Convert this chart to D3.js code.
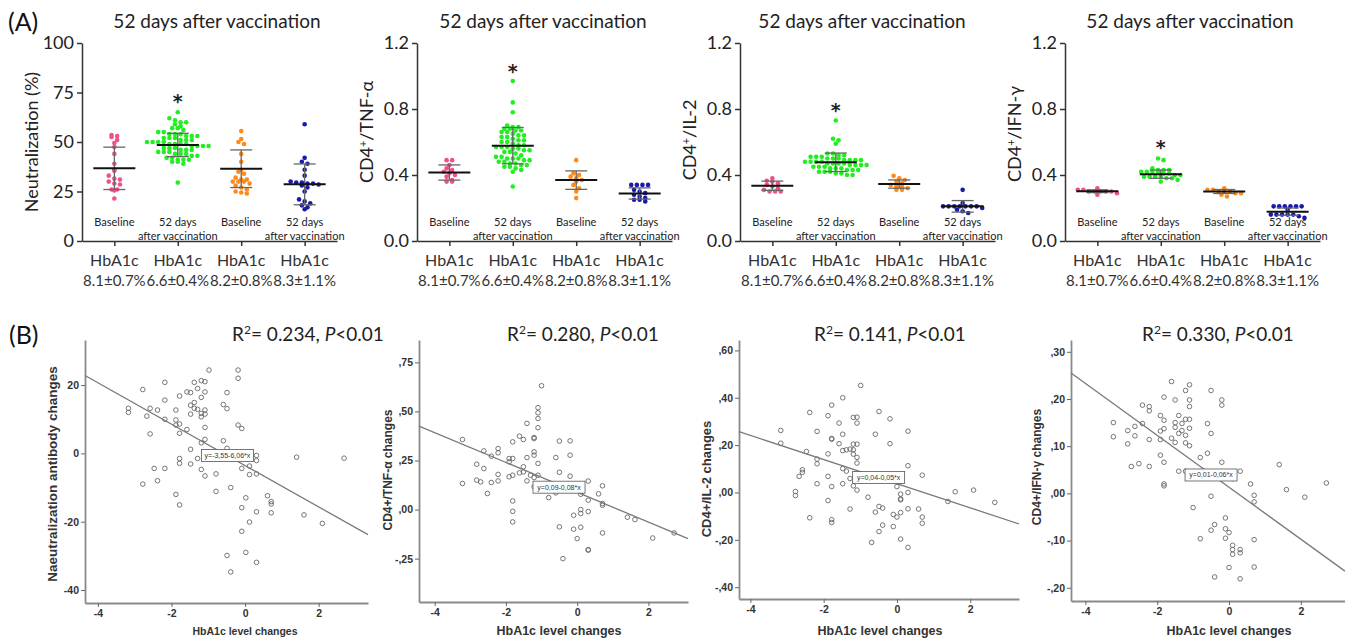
<!DOCTYPE html>
<html>
<head>
<meta charset="utf-8">
<script src="https://cdn.jsdelivr.net/npm/d3@7"></script>
<style>
  body { margin: 0; background: #fff; }
</style>
</head>
<body>
<div id="chart"></div>
<script>
// ---------- data: panel (A) ----------
var groupNames = [["Baseline"], ["52 days", "after vaccination"], ["Baseline"], ["52 days", "after vaccination"]];
var hbaLabels = ["8.1±0.7%", "6.6±0.4%", "8.2±0.8%", "8.3±1.1%"];
var panelTitle = "52 days after vaccination";

var neutValues = [
  [53.5, 53, 52.5, 51, 49.5, 47.5, 44, 39, 36, 35.5, 33, 31.5, 31, 30, 29, 28.5, 26, 26, 25.5, 21.5],
  [65, 62, 61, 60, 60, 59, 58, 57, 57, 56, 55, 55, 54, 54, 54, 53, 53, 53, 52, 52, 52, 51, 51, 51, 50, 50, 50, 50,
   49, 49, 49, 49, 48, 48, 48, 48, 47, 47, 47, 46, 46, 46, 45, 45, 45, 44, 44, 44, 43, 43, 42, 42, 41, 41, 41, 40, 40, 39, 29.5],
  [55.5, 51.5, 50, 49, 44, 40, 36, 35, 34, 32, 31, 31, 30, 30, 30, 29, 28, 27, 26, 25, 24.5, 24],
  [59, 42, 40, 39, 36, 33, 30, 29.5, 29.5, 29, 29, 28.5, 28, 27, 25, 21, 20, 19, 18, 17, 16]
];
var neutMean = [36.7, 48.5, 36.5, 28.6];
var neutSD = [10.7, 5.9, 9.5, 10.3];

var tnfValues = [
  [0.49, 0.49, 0.46, 0.44, 0.43, 0.42, 0.41, 0.40, 0.39, 0.37, 0.36, 0.36],
  [0.97, 0.84, 0.78, 0.70, 0.69, 0.69, 0.68, 0.68, 0.67, 0.67, 0.66, 0.66, 0.65, 0.64, 0.64, 0.63, 0.63, 0.62, 0.61, 0.61,
   0.60, 0.60, 0.59, 0.58, 0.58, 0.57, 0.57, 0.57, 0.56, 0.56, 0.55, 0.55, 0.54, 0.54, 0.53, 0.52, 0.51, 0.51, 0.50, 0.50,
   0.50, 0.49, 0.49, 0.48, 0.48, 0.47, 0.47, 0.46, 0.46, 0.45, 0.45, 0.44, 0.43, 0.42, 0.33],
  [0.49, 0.41, 0.40, 0.39, 0.38, 0.37, 0.36, 0.34, 0.32, 0.30, 0.26],
  [0.34, 0.34, 0.34, 0.34, 0.31, 0.30, 0.29, 0.28, 0.27, 0.26, 0.25, 0.25, 0.24]
];
var tnfMean = [0.415, 0.578, 0.369, 0.288];
var tnfSD = [0.046, 0.11, 0.056, 0.034];

var il2Values = [
  [0.38, 0.365, 0.36, 0.35, 0.34, 0.33, 0.32, 0.31, 0.30, 0.30, 0.30],
  [0.73, 0.62, 0.61, 0.59, 0.53, 0.53, 0.52, 0.52, 0.51, 0.51, 0.51, 0.50, 0.50, 0.50, 0.49, 0.49, 0.49, 0.49, 0.48, 0.48,
   0.48, 0.48, 0.47, 0.47, 0.47, 0.47, 0.46, 0.46, 0.46, 0.46, 0.45, 0.45, 0.45, 0.44, 0.44, 0.44, 0.43, 0.43, 0.43, 0.42,
   0.42, 0.42, 0.41, 0.41, 0.40, 0.40],
  [0.395, 0.38, 0.37, 0.36, 0.35, 0.34, 0.33, 0.33, 0.32, 0.31, 0.31],
  [0.31, 0.23, 0.21, 0.21, 0.21, 0.21, 0.21, 0.21, 0.21, 0.20, 0.19, 0.18, 0.17]
];
var il2Mean = [0.335, 0.477, 0.345, 0.21];
var il2SD = [0.028, 0.056, 0.025, 0.035];

var ifnValues = [
  [0.32, 0.31, 0.31, 0.30, 0.30, 0.30, 0.30, 0.30, 0.29, 0.28],
  [0.50, 0.49, 0.44, 0.43, 0.43, 0.43, 0.42, 0.42, 0.42, 0.42, 0.41, 0.41, 0.40, 0.40, 0.39, 0.39, 0.39, 0.39, 0.38, 0.38, 0.37, 0.36],
  [0.32, 0.31, 0.31, 0.30, 0.30, 0.30, 0.29, 0.29, 0.28, 0.27],
  [0.21, 0.21, 0.21, 0.21, 0.21, 0.21, 0.19, 0.16, 0.16, 0.16, 0.16, 0.16, 0.15, 0.14]
];
var ifnMean = [0.302, 0.405, 0.30, 0.178];
var ifnSD = [0.008, 0.025, 0.012, 0.022];

var starValues = [71.5, 1.04, 0.805, 0.58];

// ---------- data: panel (B) ----------
var neutScatter = [[-3.17,13.2],[-3.17,12],[-2.78,18.7],[-2.78,-9],[-2.67,10.9],[-2.58,13.2],[-2.58,5.7],[-2.47,-4.4],[-2.38,12.7],[-2.38,-8],
  [-2.18,20.8],[-2.18,15.6],[-2.18,10],[-2.18,-4.4],[-1.88,12.7],[-1.88,9.8],[-1.88,8.3],[-1.88,-12],[-1.78,16.8],[-1.78,5.9],
  [-1.78,8.6],[-1.78,-1.5],[-1.78,-2.9],[-1.78,-15.1],[-1.58,18],[-1.58,7],[-1.48,17.8],[-1.48,14.1],[-1.48,11.5],[-1.48,1.2],
  [-1.48,-3.1],[-1.38,20.8],[-1.38,14.9],[-1.38,13.2],[-1.29,19],[-1.29,12.9],[-1.29,-1.5],[-1.19,21.3],[-1.19,16.4],[-1.19,11.7],
  [-1.19,10.7],[-1.19,3.1],[-1.19,-4.7],[-1.09,21],[-1.09,18],[-1.09,12.7],[-1.09,11.5],[-1.09,7.6],[-1.09,4.1],[-1.09,-6.6],
  [-0.98,24.4],[-0.79,-6],[-0.79,-11.1],[-0.59,14.3],[-0.59,3.7],[-0.49,17.8],[-0.49,13.1],[-0.49,1.5],[-0.49,-29.9],[-0.39,-10],
  [-0.39,-34.7],[-0.19,24.4],[-0.19,22],[-0.19,8.3],[-0.09,7.3],[-0.09,-4.4],[-0.09,-15.9],[-0.09,-22.8],[0.02,-13],[0.02,-29],
  [0.12,-3.7],[0.12,-6.2],[0.12,-20.1],[0.31,-0.6],[0.31,-2.1],[0.31,-6],[0.31,-17.1],[0.31,-31.9],[0.61,-12.4],[0.71,-14.1],
  [0.71,-14.8],[0.71,-17.4],[1.40,-1.1],[1.60,-18],[2.10,-20.5],[2.69,-1.4]];

var tnfScatter = [[-3.22,0.357],[-3.22,0.133],[-2.82,0.231],[-2.82,0.150],[-2.71,0.141],[-2.62,0.299],[-2.62,0.209],[-2.52,0.082],
  [-2.41,0.272],[-2.41,0.138],[-2.22,0.311],[-2.22,0.289],[-2.22,0.179],[-2.22,0.146],[-1.91,0.260],[-1.91,0.243],[-1.91,0.167],
  [-1.81,0.345],[-1.81,0.260],[-1.81,0.175],[-1.81,0.044],[-1.81,-0.009],[-1.81,-0.063],[-1.62,0.374],[-1.62,0.187],[-1.51,0.357],
  [-1.51,0.218],[-1.51,0.192],[-1.41,0.439],[-1.41,0.265],[-1.41,0.146],[-1.31,0.175],[-1.21,0.362],[-1.21,0.163],[-1.21,0.116],
  [-1.21,0.367],[-1.21,0.277],[-1.21,0.294],[-1.10,0.519],[-1.10,0.417],[-1.10,0.493],[-1.10,0.464],[-1.10,0.235],[-1.10,0.175],
  [-1.00,0.631],[-0.80,0.061],[-0.60,0.265],[-0.60,0.085],[-0.50,0.349],[-0.50,0.190],[-0.50,-0.088],[-0.40,-0.250],[-0.20,0.350],
  [-0.20,0.277],[-0.20,0.170],[-0.10,-0.029],[-0.10,-0.100],[0.00,-0.148],[0.10,0.000],[0.10,-0.020],[0.10,0.078],[0.10,-0.090],
  [0.31,0.145],[0.31,0.048],[0.31,-0.010],[0.31,-0.204],[0.31,-0.207],[0.60,0.080],[0.71,0.121],[0.71,0.031],[0.71,0.022],
  [0.71,-0.119],[1.41,-0.039],[1.62,-0.051],[2.12,-0.145],[2.72,-0.119]];

var il2Scatter = [[-3.17,0.262],[-3.17,0.208],[-2.77,0.004],[-2.77,-0.013],[-2.67,0.068],[-2.58,0.085],[-2.58,0.096],[-2.47,0.173],
  [-2.38,0.338],[-2.38,-0.107],[-2.18,0.258],[-2.18,0.141],[-2.18,0.121],[-2.18,0.037],[-1.88,0.324],[-1.88,0.163],[-1.88,0.068],
  [-1.88,-0.034],[-1.78,0.369],[-1.78,0.228],[-1.78,0.225],[-1.78,0.025],[-1.78,-0.115],[-1.78,-0.127],[-1.58,0.293],[-1.58,0.206],
  [-1.48,0.400],[-1.48,0.246],[-1.48,0.177],[-1.48,0.101],[-1.48,0.037],[-1.38,0.180],[-1.38,0.090],[-1.28,0.183],[-1.28,0.059],
  [-1.28,-0.070],[-1.19,0.317],[-1.19,0.204],[-1.19,0.180],[-1.19,0.162],[-1.19,0.028],[-1.09,0.318],[-1.09,0.293],[-1.09,0.204],
  [-1.09,0.148],[-1.09,0.124],[-1.09,0.010],[-0.99,0.452],[-0.79,-0.020],[-0.69,-0.211],[-0.59,0.246],[-0.59,-0.083],[-0.49,0.342],
  [-0.49,-0.059],[-0.49,-0.165],[-0.39,-0.066],[-0.39,-0.138],[-0.19,0.311],[-0.19,0.206],[-0.10,-0.093],[-0.10,-0.144],[0.00,0.025],
  [0.00,-0.104],[0.10,-0.007],[0.10,-0.027],[0.10,-0.031],[0.10,-0.085],[0.10,-0.197],[0.30,0.259],[0.30,0.113],[0.30,0.000],
  [0.30,-0.069],[0.30,-0.232],[0.59,-0.070],[0.69,0.073],[0.69,-0.104],[0.69,-0.130],[1.39,-0.038],[1.59,0.003],[2.09,0.010],[2.67,-0.042]];

var ifnScatter = [[-3.22,0.150],[-3.22,0.120],[-2.82,0.133],[-2.82,0.105],[-2.72,0.057],[-2.62,0.142],[-2.62,0.122],[-2.51,0.063],
  [-2.41,0.187],[-2.41,0.148],[-2.22,0.184],[-2.22,0.175],[-2.22,0.114],[-2.22,0.057],[-1.91,0.165],[-1.91,0.132],[-1.91,0.114],
  [-1.91,0.081],[-1.81,0.204],[-1.81,0.155],[-1.81,0.137],[-1.81,0.066],[-1.81,0.020],[-1.81,0.016],[-1.60,0.237],[-1.60,0.117],
  [-1.50,0.198],[-1.50,0.150],[-1.50,0.140],[-1.50,0.108],[-1.40,0.165],[-1.40,0.127],[-1.40,0.047],[-1.31,0.148],[-1.31,0.133],
  [-1.21,0.218],[-1.21,0.157],[-1.21,0.123],[-1.21,0.107],[-1.21,0.047],[-1.10,0.230],[-1.10,0.198],[-1.10,0.184],[-1.10,0.157],
  [-1.10,0.138],[-1.10,0.101],[-1.00,-0.030],[-0.80,-0.096],[-0.80,0.076],[-0.60,0.085],[-0.60,0.148],[-0.50,0.218],[-0.50,0.127],
  [-0.50,-0.006],[-0.50,-0.078],[-0.40,-0.066],[-0.40,-0.177],[-0.20,0.198],[-0.20,0.187],[-0.20,0.066],[-0.10,-0.052],[-0.10,-0.075],
  [-0.10,-0.095],[0.00,-0.083],[0.00,-0.157],[0.10,0.031],[0.10,-0.110],[0.10,-0.129],[0.10,-0.119],[0.31,0.047],[0.31,-0.119],
  [0.31,-0.126],[0.31,-0.181],[0.60,0.020],[0.70,-0.004],[0.70,-0.018],[0.70,-0.098],[0.70,-0.156],[1.40,0.061],[1.60,0.008],
  [2.11,-0.008],[2.71,0.022]];

var fitCoef = [[-3.55, -6.06], [0.088, -0.076], [0.037, -0.051], [0.013, -0.055]];
var fitLabels = ["y=-3,55-6,06*x", "y=0,09-0,08*x", "y=0,04-0,05*x", "y=0,01-0,06*x"];
var r2Labels = ["0.234", "0.280", "0.141", "0.330"];

// ---------- style ----------
var groupColors = ["#f0508c", "#22ee22", "#ff8a1c", "#1a1aa8"];
var topFont = "Lato, 'Open Sans', sans-serif";
var spssFont = "'Liberation Sans', Arial, sans-serif";

var svg = d3.select("#chart").append("svg")
  .attr("width", 1345).attr("height", 640)
  .style("background", "#fff");

svg.append("text").attr("x", 8).attr("y", 31).text("(A)")
  .style("font-family", topFont).style("font-size", "25px").style("fill", "#111");
svg.append("text").attr("x", 9).attr("y", 344).text("(B)")
  .style("font-family", topFont).style("font-size", "25px").style("fill", "#111");

// ---------- panel (A): dot plots with mean +- SD ----------
function addYLabel(g, cx, cy, main, sup, rest, size) {
  var t = g.append("text")
    .attr("transform", "translate(" + cx + "," + cy + ") rotate(-90)")
    .attr("text-anchor", "middle").attr("dy", "0.35em")
    .style("font-family", topFont).style("font-size", size + "px").style("fill", "#222");
  t.append("tspan").text(main);
  if (sup) {
    t.append("tspan").attr("baseline-shift", "super").style("font-size", (size * 0.6) + "px").text(sup);
    t.append("tspan").text(rest);
  }
}

function swarm(vals, y, cx) {
  var pts = vals.map(function(v) { return {v: v, py: y(v)}; });
  var rows = d3.groups(pts, function(d) { return Math.round(d.py / 4.8); });
  var out = [];
  rows.forEach(function(r) {
    var list = r[1];
    list.forEach(function(p, i) {
      out.push({cx: cx + (i - (list.length - 1) / 2) * 5.6, cy: p.py});
    });
  });
  return out;
}

function dotPanel(opt) {
  var g = svg.append("g");
  var top = 43, bottom = 241;
  var x = d3.scalePoint().domain(d3.range(4)).range([opt.x0, opt.x0 + 255]).padding(0.51);
  var y = d3.scaleLinear().domain(opt.domain).range([bottom, top]);

  g.append("text").attr("x", opt.titleX).attr("y", 28).attr("text-anchor", "middle")
    .text(panelTitle)
    .style("font-family", topFont).style("font-size", "19px").style("fill", "#222");

  var ya = g.append("g").attr("transform", "translate(" + opt.x0 + ",0)")
    .call(d3.axisLeft(y).tickValues(opt.ticks).tickFormat(opt.fmt).tickSize(5).tickPadding(3).tickSizeOuter(0));
  var xa = g.append("g").attr("transform", "translate(0," + bottom + ")")
    .call(d3.axisBottom(x).tickSize(5).tickFormat("").tickSizeOuter(0));
  [ya, xa].forEach(function(a) {
    a.select(".domain").attr("stroke", "#333").attr("stroke-width", 1.5);
    a.selectAll(".tick line").attr("stroke", "#333").attr("stroke-width", 1.5);
    a.selectAll("text").style("font-family", topFont).style("font-size", "18px").style("fill", "#222");
  });

  addYLabel(g, opt.x0 - 50, opt.labelY, opt.label[0], opt.label[1], opt.label[2], 18);

  opt.values.forEach(function(vals, i) {
    var cx = x(i);
    g.append("g").selectAll("circle").data(swarm(vals, y, cx)).enter().append("circle")
      .attr("cx", function(d) { return d.cx; }).attr("cy", function(d) { return d.cy; })
      .attr("r", 2.3).attr("fill", groupColors[i]);

    var m = opt.mean[i], s = opt.sd[i];
    var sdG = g.append("g").attr("stroke", "#666").attr("stroke-width", 1.3);
    sdG.append("line").attr("x1", cx).attr("x2", cx).attr("y1", y(m - s)).attr("y2", y(m + s));
    [m - s, m + s].forEach(function(v) {
      sdG.append("line").attr("x1", cx - 11).attr("x2", cx + 11).attr("y1", y(v)).attr("y2", y(v));
    });
    g.append("line").attr("x1", cx - 21).attr("x2", cx + 21).attr("y1", y(m)).attr("y2", y(m))
      .attr("stroke", "#111").attr("stroke-width", 2);

    var lab = g.append("text").attr("text-anchor", "middle")
      .style("font-family", topFont).style("font-size", "11px").style("fill", "#222");
    groupNames[i].forEach(function(line, k) {
      lab.append("tspan").attr("x", cx).attr("y", 226 + k * 14).text(line);
    });

    var hb = g.append("text").attr("text-anchor", "middle")
      .style("font-family", topFont).style("fill", "#333");
    hb.append("tspan").attr("x", cx).attr("y", 266).style("font-size", "16px").text("HbA1c");
    hb.append("tspan").attr("x", cx).attr("y", 286).style("font-size", "15px").text(hbaLabels[i]);
  });

  g.append("text").attr("x", x(1)).attr("y", y(opt.star) + 9).attr("text-anchor", "middle")
    .text("*").style("font-family", "'DejaVu Sans', sans-serif").style("font-weight", "bold")
    .style("font-size", "19px").style("fill", "#222");
}

var f1 = d3.format(".1f");
dotPanel({x0: 82, titleX: 217, labelY: 142, domain: [0, 100], ticks: [0, 25, 50, 75, 100], fmt: d3.format("d"),
  label: ["Neutralization (%)"], values: neutValues, mean: neutMean, sd: neutSD, star: starValues[0]});
dotPanel({x0: 417, titleX: 543, labelY: 132, domain: [0, 1.2], ticks: [0, 0.4, 0.8, 1.2], fmt: f1,
  label: ["CD4", "+", "/TNF-α"], values: tnfValues, mean: tnfMean, sd: tnfSD, star: starValues[1]});
dotPanel({x0: 740, titleX: 862, labelY: 140, domain: [0, 1.2], ticks: [0, 0.4, 0.8, 1.2], fmt: f1,
  label: ["CD4", "+", "/IL-2"], values: il2Values, mean: il2Mean, sd: il2SD, star: starValues[2]});
dotPanel({x0: 1065, titleX: 1190, labelY: 134, domain: [0, 1.2], ticks: [0, 0.4, 0.8, 1.2], fmt: f1,
  label: ["CD4", "+", "/IFN-γ"], values: ifnValues, mean: ifnMean, sd: ifnSD, star: starValues[3]});

// ---------- panel (B): SPSS-style scatter with fit ----------
function commaFmt(d) {
  var s = d3.format(".2f")(Math.abs(d)).split(".")[1];
  return (d < 0 ? "-" : "") + "," + s;
}

function scatterPanel(opt, idx) {
  var g = svg.append("g");
  var top = 340;
  var x = d3.scaleLinear().domain(opt.xd).range([opt.px0, opt.px1]);
  var y = d3.scaleLinear().domain(opt.yd).range([opt.py1, top]);

  var xa = g.append("g").attr("transform", "translate(0," + opt.py1 + ")")
    .call(d3.axisBottom(x).tickValues([-4, -2, 0, 2]).tickFormat(function(d) { return String(d); })
      .tickSize(4).tickPadding(3).tickSizeOuter(0));
  var ya = g.append("g").attr("transform", "translate(" + opt.px0 + ",0)")
    .call(d3.axisLeft(y).tickValues(opt.ticks).tickFormat(opt.fmt).tickSize(4).tickPadding(2).tickSizeOuter(0));
  [xa, ya].forEach(function(a) {
    a.select(".domain").attr("stroke", "#8a8a8a").attr("stroke-width", 1.8);
    a.selectAll(".tick line").attr("stroke", "#666").attr("stroke-width", 1);
    a.selectAll("text").style("font-family", spssFont).style("font-weight", "bold")
      .style("font-size", "10.5px").style("fill", "#333");
  });

  g.append("g").selectAll("circle").data(opt.points).enter().append("circle")
    .attr("cx", function(d) { return x(d[0]); }).attr("cy", function(d) { return y(d[1]); })
    .attr("r", 2.3).attr("fill", "none").attr("stroke", "#666").attr("stroke-width", 0.9);

  var c = fitCoef[idx];
  g.append("line")
    .attr("x1", x(opt.xd[0])).attr("y1", y(c[0] + c[1] * opt.xd[0]))
    .attr("x2", x(opt.xd[1])).attr("y2", y(c[0] + c[1] * opt.xd[1]))
    .attr("stroke", "#7a7a7a").attr("stroke-width", 1.3);

  var bx = x(opt.box[0]), by = y(opt.box[1]);
  g.append("rect").attr("x", bx - 26).attr("y", by - 6).attr("width", 52).attr("height", 12)
    .attr("fill", "#fff").attr("stroke", "#555").attr("stroke-width", 0.8);
  g.append("text").attr("x", bx).attr("y", by + 2.5).attr("text-anchor", "middle").text(fitLabels[idx])
    .style("font-family", spssFont).style("font-size", "7px").style("fill", "#333");

  g.append("text").attr("x", opt.xTitleX).attr("y", 635).attr("text-anchor", "middle")
    .text("HbA1c level changes")
    .style("font-family", spssFont).style("font-weight", "bold").style("font-size", opt.xTitleSize + "px").style("fill", "#333");

  g.append("text").attr("transform", "translate(" + opt.yTitleX + "," + opt.yTitleY + ") rotate(-90)")
    .attr("text-anchor", "middle").attr("dy", "0.35em").text(opt.yTitle)
    .style("font-family", spssFont).style("font-weight", "bold").style("font-size", opt.yTitleSize + "px").style("fill", "#333");

  var r2 = g.append("text").attr("x", opt.r2X).attr("y", 341).attr("text-anchor", "middle")
    .style("font-family", topFont).style("font-size", "19px").style("fill", "#222");
  r2.append("tspan").text("R");
  r2.append("tspan").attr("baseline-shift", "super").style("font-size", "12px").text("2");
  r2.append("tspan").text("= " + r2Labels[idx] + ", ");
  r2.append("tspan").style("font-style", "italic").text("P");
  r2.append("tspan").text("<0.01");
}

scatterPanel({points: neutScatter, xd: [-4.35, 3.34], px0: 85, px1: 368, yd: [-43.8, 33.2], py1: 603,
  ticks: [-40, -20, 0, 20], fmt: function(d) { return String(d); }, box: [-0.48, -0.64],
  xTitleX: 245, xTitleSize: 10.5, yTitle: "Naeutralization antibody changes", yTitleX: 52, yTitleY: 474, yTitleSize: 13.5,
  r2X: 308}, 0);
scatterPanel({points: tnfScatter, xd: [-4.44, 3.11], px0: 419, px1: 688, yd: [-0.471, 0.864], py1: 602,
  ticks: [-0.25, 0, 0.25, 0.5, 0.75], fmt: commaFmt, box: [-0.51, 0.114],
  xTitleX: 559, xTitleSize: 12.5, yTitle: "CD4+/TNF-α changes", yTitleX: 388, yTitleY: 470, yTitleSize: 12,
  r2X: 583}, 1);
scatterPanel({points: il2Scatter, xd: [-4.31, 3.33], px0: 739, px1: 1019, yd: [-0.45, 0.644], py1: 599,
  ticks: [-0.4, -0.2, 0, 0.2, 0.4, 0.6], fmt: commaFmt, box: [-0.5, 0.063],
  xTitleX: 880, xTitleSize: 12.5, yTitle: "CD4+/IL-2 changes", yTitleX: 706, yTitleY: 479, yTitleSize: 13,
  r2X: 890}, 2);
scatterPanel({points: ifnScatter, xd: [-4.40, 3.23], px0: 1071, px1: 1345, yd: [-0.228, 0.325], py1: 601,
  ticks: [-0.2, -0.1, 0, 0.1, 0.2, 0.3], fmt: commaFmt, box: [-0.5, 0.039],
  xTitleX: 1229, xTitleSize: 12.5, yTitle: "CD4+/IFN-γ changes", yTitleX: 1037, yTitleY: 467, yTitleSize: 12,
  r2X: 1218}, 3);
</script>
</body>
</html>
